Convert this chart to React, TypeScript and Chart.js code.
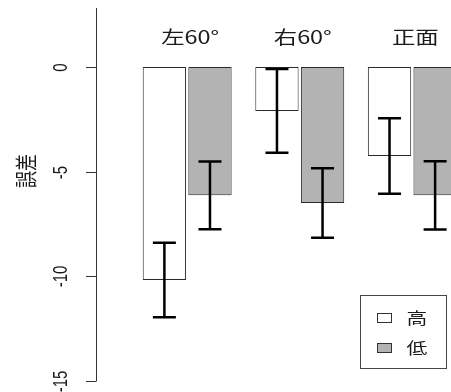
import React, { useEffect, useRef } from "react";
import { Chart, registerables } from "chart.js";

Chart.register(...registerables);

const categories = ["左60°", "右60°", "正面"];
const seriesNames = ["高", "低"];
const highMeans = [-10.18, -2.1, -4.25];
const lowMeans = [-6.13, -6.5, -6.13];
const highErr = [1.78, 2.0, 1.8];
const lowErr = [1.62, 1.66, 1.63];
const yTicks = [0, -5, -10, -15];
const yTitle = "誤差";

const SX = 1.3;
const CJK = "'Noto Sans CJK JP', 'Noto Sans', sans-serif";
const LAT = "'Liberation Sans', Arial, sans-serif";
const INK = "#1a1a1a";

function stretchedText(
  ctx: CanvasRenderingContext2D,
  text: string,
  x: number,
  y: number,
  font: string,
  rot = 0
) {
  ctx.save();
  ctx.translate(x, y);
  ctx.scale(SX, 1);
  if (rot) ctx.rotate(rot);
  ctx.font = font;
  ctx.fillStyle = INK;
  ctx.textAlign = "center";
  ctx.textBaseline = "middle";
  ctx.fillText(text, 0, 0);
  ctx.restore();
}

const decorPlugin = {
  id: "decor",
  afterDatasetsDraw(chart: any) {
    const ctx: CanvasRenderingContext2D = chart.ctx;
    const y = chart.scales.y;
    const x = chart.scales.x;
    const area = chart.chartArea;
    ctx.save();

    // y axis
    const axisX = 96;
    ctx.strokeStyle = "#333";
    ctx.lineWidth = 1;
    ctx.beginPath();
    ctx.moveTo(axisX + 0.5, area.top);
    ctx.lineTo(axisX + 0.5, y.getPixelForValue(yTicks[yTicks.length - 1]));
    ctx.stroke();
    yTicks.forEach((t) => {
      const py = Math.round(y.getPixelForValue(t)) + 0.5;
      ctx.beginPath();
      ctx.moveTo(axisX - 10, py);
      ctx.lineTo(axisX + 0.5, py);
      ctx.stroke();
      stretchedText(ctx, String(t), 62, py, `15px ${LAT}`, -Math.PI / 2);
    });
    stretchedText(ctx, yTitle, 26, 171, `17px ${CJK}`, -Math.PI / 2);

    // group labels
    categories.forEach((c, i) => {
      stretchedText(ctx, c, x.getPixelForValue(i) + 3, 37, `18px ${CJK}`);
    });

    // error bars
    const errs = [highErr, lowErr];
    const means = [highMeans, lowMeans];
    ctx.strokeStyle = "#000";
    ctx.lineWidth = 2.5;
    [0, 1].forEach((d) => {
      const meta = chart.getDatasetMeta(d);
      meta.data.forEach((bar: any, j: number) => {
        const cx = bar.x;
        const top = y.getPixelForValue(means[d][j] + errs[d][j]);
        const bot = y.getPixelForValue(means[d][j] - errs[d][j]);
        ctx.beginPath();
        ctx.moveTo(cx, top);
        ctx.lineTo(cx, bot);
        ctx.moveTo(cx - 11.5, top);
        ctx.lineTo(cx + 11.5, top);
        ctx.moveTo(cx - 11.5, bot);
        ctx.lineTo(cx + 11.5, bot);
        ctx.stroke();
      });
    });

    // legend
    ctx.lineWidth = 1;
    ctx.strokeStyle = "#444";
    ctx.strokeRect(360.5, 295.5, 86, 73);
    const fills = ["#ffffff", "#b3b3b3"];
    const ys = [318, 348];
    seriesNames.forEach((n, i) => {
      ctx.fillStyle = fills[i];
      ctx.fillRect(377.5, ys[i] - 4.5, 14, 9);
      ctx.strokeStyle = "#333";
      ctx.strokeRect(377.5, ys[i] - 4.5, 14, 9);
      stretchedText(ctx, n, 417, ys[i], `16px ${CJK}`);
    });

    ctx.restore();
  },
};

export default function App() {
  const ref = useRef<HTMLCanvasElement>(null);
  useEffect(() => {
    const chart = new Chart(ref.current!, {
      type: "bar",
      data: {
        labels: categories,
        datasets: [
          {
            label: seriesNames[0],
            data: highMeans,
            backgroundColor: "#ffffff",
            borderColor: "#2a2a2a",
            borderWidth: 1,
            borderSkipped: false,
          },
          {
            label: seriesNames[1],
            data: lowMeans,
            backgroundColor: "#b3b3b3",
            borderColor: "#2a2a2a",
            borderWidth: 1,
            borderSkipped: false,
          },
        ],
      },
      options: {
        responsive: false,
        animation: false,
        devicePixelRatio: 1,
        categoryPercentage: 0.81,
        barPercentage: 0.95,
        layout: { padding: { left: 130.9, right: 1.4, top: 8, bottom: 11 } },
        plugins: { legend: { display: false }, tooltip: { enabled: false } },
        scales: {
          x: { display: false },
          y: { display: false, min: -15, max: 2.82 },
        },
      } as any,
      plugins: [decorPlugin],
    });
    return () => chart.destroy();
  }, []);
  return (
    <div
      style={{
        position: "fixed",
        left: 0,
        top: 0,
        width: 451,
        height: 392,
        overflow: "hidden",
        background: "#fff",
      }}
    >
      <canvas
        ref={ref}
        width={470}
        height={392}
        style={{ width: 470, height: 392, display: "block" }}
      />
    </div>
  );
}
